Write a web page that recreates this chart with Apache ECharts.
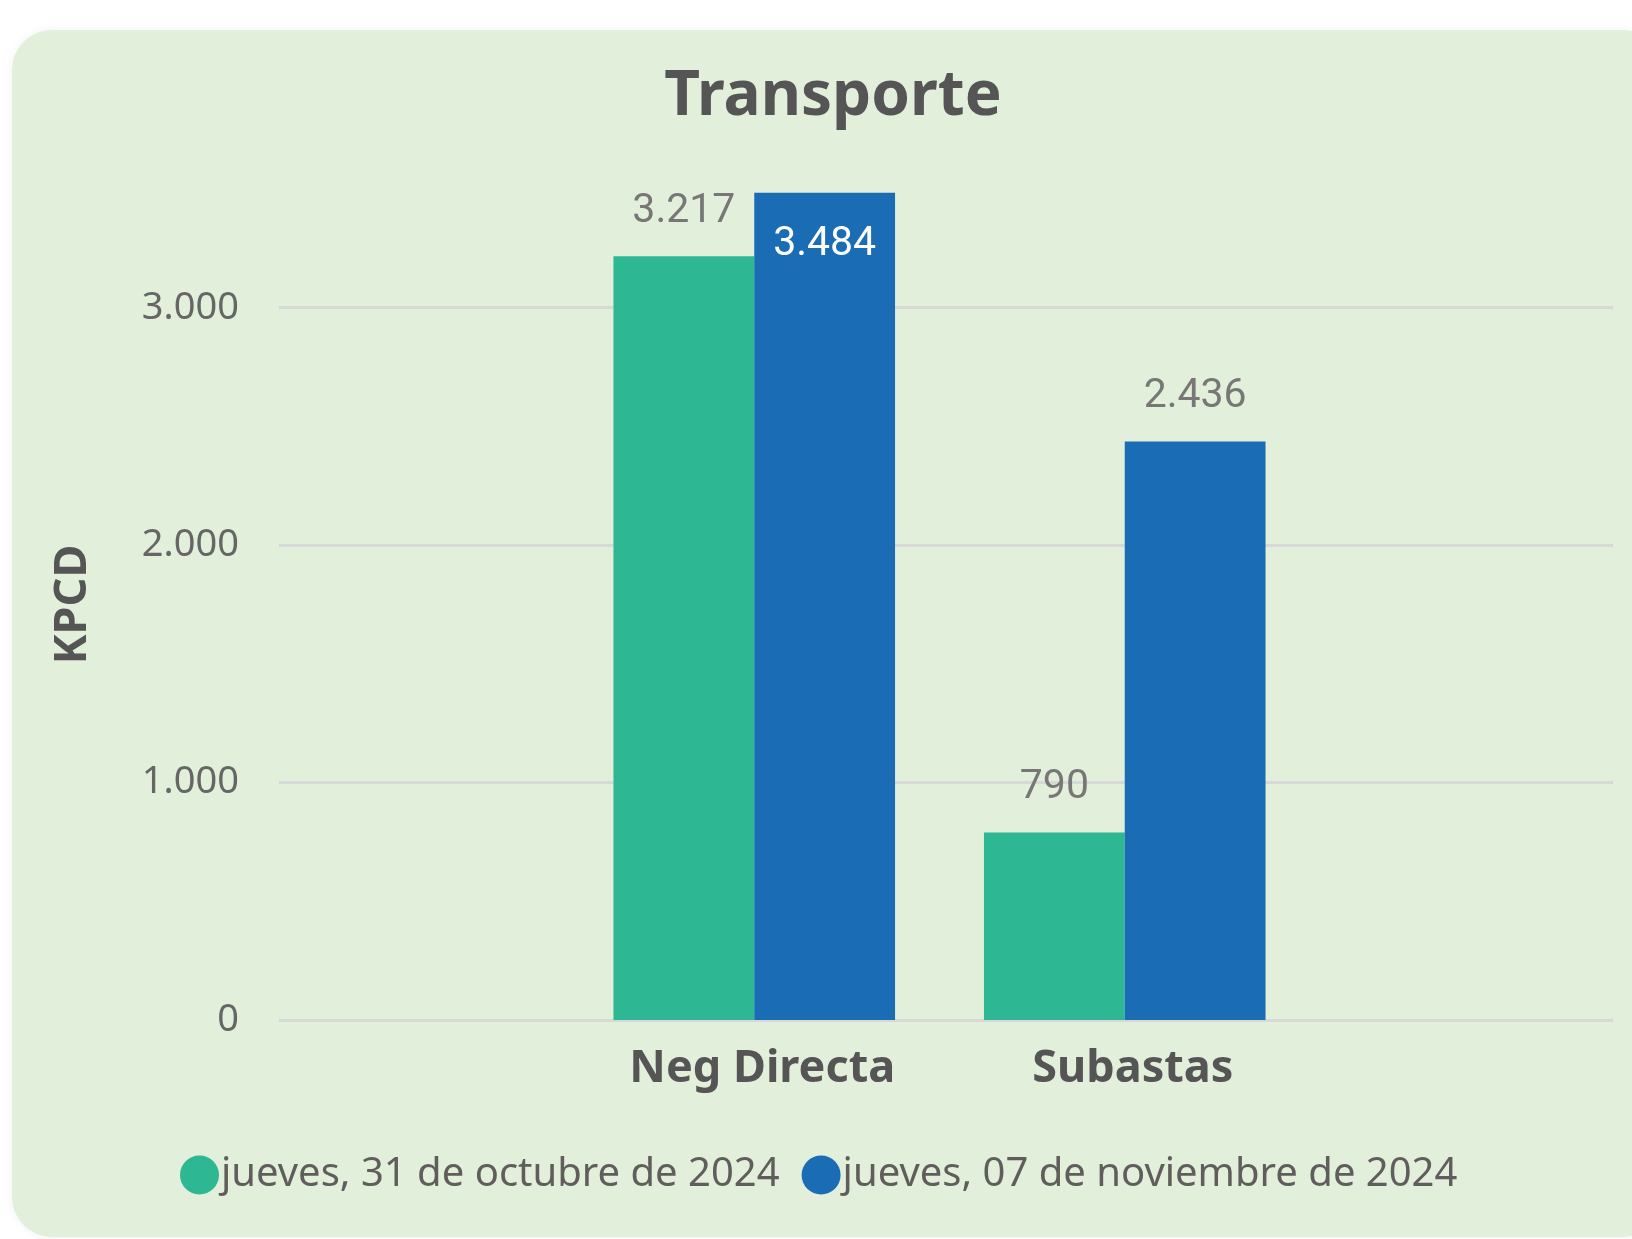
<!DOCTYPE html>
<html><head><meta charset="utf-8">
<script src="https://cdn.jsdelivr.net/npm/echarts@6/dist/echarts.min.js"></script>
<style>html,body{margin:0;padding:0;background:#fff}#c{width:1632px;height:1239px}</style>
</head><body><div id="c"></div>
<script>
const categories = ['Neg Directa', 'Subastas'];
const seriesNames = ['jueves, 31 de octubre de 2024', 'jueves, 07 de noviembre de 2024'];
const valuesOct31 = [3217, 790];
const valuesNov07 = [3484, 2436];
const yTicks = [0, 1000, 2000, 3000];
const yMax = 3500;
const titleText = 'Transporte';
const yName = 'KPCD';

const colors = ['#2DB893', '#1A6CB4'];
function fmt(v) { return String(v).replace(/\B(?=(\d{3})+(?!\d))/g, '.'); }
function makeData(vals) {
  return vals.map(v => v > yMax * 0.95
    ? { value: v, label: { position: 'insideTop', distance: 31, color: '#ffffff' } }
    : v);
}
const interval = yTicks[1] - yTicks[0];
const chart = echarts.init(document.getElementById('c'), null, { renderer: 'canvas' });
const font = '"Noto Sans", "Open Sans", sans-serif';
const barSeries = [valuesOct31, valuesNov07].map((vals, i) => ({
  type: 'bar', name: seriesNames[i], data: makeData(vals),
  xAxisIndex: 1, yAxisIndex: 1,
  barGap: '0%', barCategoryGap: '24%',
  itemStyle: { color: colors[i] },
  label: { show: true, position: 'top', distance: 24, formatter: p => fmt(p.value),
    fontFamily: 'Roboto, sans-serif', fontSize: 41, color: '#777777' }
}));
chart.setOption({
  animation: false,
  graphic: [{
    type: 'rect', z: -10, silent: true,
    shape: { x: 12, y: 30, width: 1650, height: 1207, r: 40 },
    style: { fill: '#E2EFDA', shadowColor: 'rgba(0,0,0,0.06)', shadowBlur: 10 }
  }],
  title: {
    text: titleText, left: 828, top: 61, textAlign: 'center',
    textStyle: { fontFamily: font, fontWeight: 'bold', fontSize: 62, color: '#555555' }
  },
  legend: {
    data: seriesNames, left: 175, top: 1150, icon: 'circle', itemWidth: 39, itemHeight: 39,
    itemGap: 22, selectedMode: false,
    textStyle: { fontFamily: font, fontSize: 40, color: '#605E5C', padding: [0, 0, 0, -3] }
  },
  grid: [
    { left: 279, right: 19, top: 189, bottom: 219 },
    { left: 569, right: 322, top: 189, bottom: 219 }
  ],
  xAxis: [
    { gridIndex: 0, type: 'value', show: false, min: 0, max: 1 },
    { gridIndex: 1, type: 'category', data: categories,
      axisLine: { show: false }, axisTick: { show: false }, splitLine: { show: false },
      axisLabel: { margin: 27, padding: [0, 0, 0, 16], fontFamily: font, fontWeight: 'bold', fontSize: 45, color: '#555555' } }
  ],
  yAxis: [
    { gridIndex: 0, type: 'value', min: yTicks[0], max: yMax, interval: interval,
      name: yName, nameLocation: 'middle', nameRotate: 90, nameGap: 183,
      nameTextStyle: { fontFamily: font, fontWeight: 'bold', fontSize: 45, color: '#555555' },
      axisLine: { show: false }, axisTick: { show: false },
      axisLabel: { margin: 40, formatter: v => fmt(v), fontFamily: font, fontSize: 38, color: '#666666', showMaxLabel: false },
      splitLine: { show: true, showMaxLine: false, lineStyle: { color: '#D6D9D6', width: 3 } } },
    { gridIndex: 1, type: 'value', min: yTicks[0], max: yMax, interval: interval, show: false, splitLine: { show: false } }
  ],
  series: barSeries
});
</script></body></html>
